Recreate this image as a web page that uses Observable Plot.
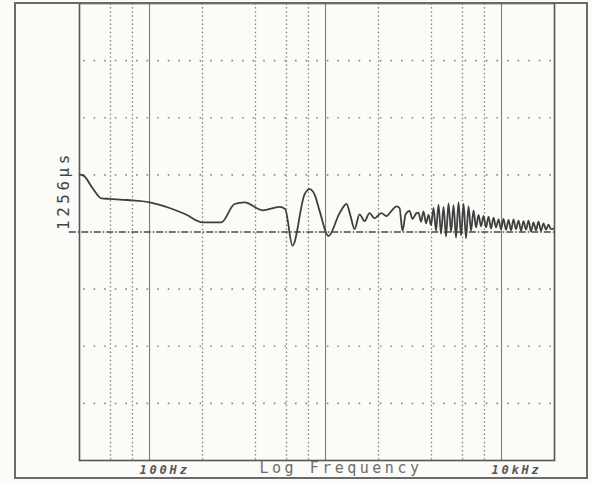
<!DOCTYPE html>
<html>
<head>
<meta charset="utf-8">
<script src="https://cdn.jsdelivr.net/npm/d3@7"></script>
<script src="https://cdn.jsdelivr.net/npm/@observablehq/plot@0.6"></script>
<style>
  html, body { margin: 0; padding: 0; background: #fbfbf8; }
  #wrap { position: relative; width: 592px; height: 484px; overflow: hidden; }
  #border { position: absolute; left: 14px; top: 2px; width: 574px; height: 477px; border: 2px solid #6a6a6a; box-sizing: border-box; pointer-events: none; }
  #chart { position: absolute; left: 0; top: 0; }
</style>
</head>
<body>
<div id="wrap"><div id="chart"></div><div id="border"></div></div>
<script>
// Frequency (Hz) of each plotted point of the trace
const freqHz = [
  40, 42.5, 47.4, 53.3, 59.3, 75, 100, 130, 160, 200, 256, 304, 347, 439, 548, 590,
  649, 760, 811, 866, 925, 1040, 1202, 1316, 1387, 1462, 1560, 1667, 1778, 1898,
  2080, 2221, 2371, 2531, 2633, 2738, 2851, 3001, 3120, 3289,
  3376, 3488, 3605, 3724, 3848, 3977, 4109, 4245, 4385, 4531, 4683, 4838, 4999,
  5166, 5337, 5514, 5698, 5888, 6083, 6285, 6494, 6710, 6933, 7164, 7402, 7648,
  7902, 8165, 8436, 8717, 9007, 9307, 9616, 9936, 10266, 10607, 10960, 11324,
  11701, 12090, 12492, 12907, 13335, 13779, 14237, 14711, 15200, 15705, 16227,
  16766, 17323, 17899, 18493, 19110, 19740
];
// Trace value in graticule divisions relative to the 1256 µs reference line
const traceDiv = [
  1.01, 0.98, 0.77, 0.59, 0.58, 0.56, 0.52, 0.42, 0.31, 0.17, 0.17, 0.49, 0.52, 0.38, 0.44, 0.40,
  -0.24, 0.66, 0.75, 0.66, 0.37, -0.07, 0.33, 0.49, 0.28, 0.05, 0.31, 0.19, 0.33, 0.24,
  0.33, 0.28, 0.37, 0.45, 0.42, 0.02, 0.31, 0.37, 0.23, 0.33,
  0.34, 0.18, 0.36, 0.15, 0.30, 0.12, 0.42, 0.02, 0.48, -0.03, 0.44, -0.08, 0.50,
  0.00, 0.47, -0.10, 0.52, -0.06, 0.49, -0.11, 0.45, 0.02, 0.38, 0.08, 0.30, 0.10,
  0.28, 0.08, 0.27, 0.06, 0.25, 0.08, 0.22, 0.05, 0.23, 0.04, 0.21, 0.03,
  0.22, 0.05, 0.20, 0.02, 0.19, 0.04, 0.20, 0.01, 0.17, 0.03, 0.18,
  0.02, 0.15, 0.04, 0.13, 0.05, 0.06
];
const xDomain = [40, 20000];
const yDomain = [-4, 4];
const decadeLines = [100, 1000, 10000];
const minorLines = [60, 80, 200, 400, 600, 800, 2000, 4000, 6000, 8000];
const hLines = [-3, -2, -1, 1, 2, 3];
const refLine = [0];
const refLabel = ["1256µs"];
const xTickValues = [100, 10000];
const xTickLabels = ["100Hz", "10kHz"];
const xAxisTitle = "Log Frequency";

const trace = freqHz.map((f, i) => ({f, v: traceDiv[i]}));
const ticks = xTickValues.map((f, i) => ({f, label: xTickLabels[i]}));

const chart = Plot.plot({
  width: 592,
  height: 484,
  marginLeft: 79,
  marginRight: 38,
  marginTop: 3,
  marginBottom: 24,
  style: {background: "transparent", overflow: "visible"},
  x: {type: "log", domain: xDomain, axis: null},
  y: {domain: yDomain, axis: null},
  marks: [
    Plot.ruleY(hLines, {stroke: "#8a8a8a", strokeWidth: 1.6, strokeDasharray: "1.6,9", x1: xDomain[0], x2: xDomain[1], dx: 4}),
    Plot.ruleX(minorLines, {stroke: "#858585", strokeWidth: 1.3, strokeDasharray: "1.5,2.6"}),
    Plot.ruleX(decadeLines, {stroke: "#7a7a7a", strokeWidth: 1.1}),
    Plot.ruleY(refLine, {x1: 35, x2: xDomain[1], stroke: "#4a4a4a", strokeWidth: 1.3, strokeDasharray: "7,2,1.5,2"}),
    Plot.line(trace, {x: "f", y: "v", stroke: "#3f3f3f", strokeWidth: 1.8, curve: "monotone-x"}),
    Plot.frame({stroke: "#555", strokeWidth: 1.6}),
    Plot.text(refLabel, {x: xDomain[0], y: refLine[0], text: d => d, rotate: -90, textAnchor: "start", dx: -16, dy: -2,
      fontSize: 16, fontFamily: "DejaVu Sans Mono", fill: "#444"}),
    Plot.text(ticks, {x: "f", text: "label", frameAnchor: "bottom", textAnchor: "start", dx: -10, dy: 13,
      fontSize: 12, fontFamily: "DejaVu Sans Mono", fontStyle: "italic", fontWeight: "bold", fill: "#555"}),
    Plot.text([xAxisTitle], {text: d => d, frameAnchor: "bottom", dx: 24, dy: 12,
      fontSize: 15, fontFamily: "DejaVu Sans Mono", fill: "#6e6e6e"})
  ]
});
chart.querySelectorAll("text").forEach(t => {
  if (t.textContent === xAxisTitle) t.setAttribute("letter-spacing", "3.5");
  if (xTickLabels.includes(t.textContent)) t.setAttribute("letter-spacing", "2.8");
  if (refLabel.includes(t.textContent)) t.setAttribute("letter-spacing", "3.5");
});
document.getElementById("chart").appendChild(chart);
</script>
</body>
</html>
